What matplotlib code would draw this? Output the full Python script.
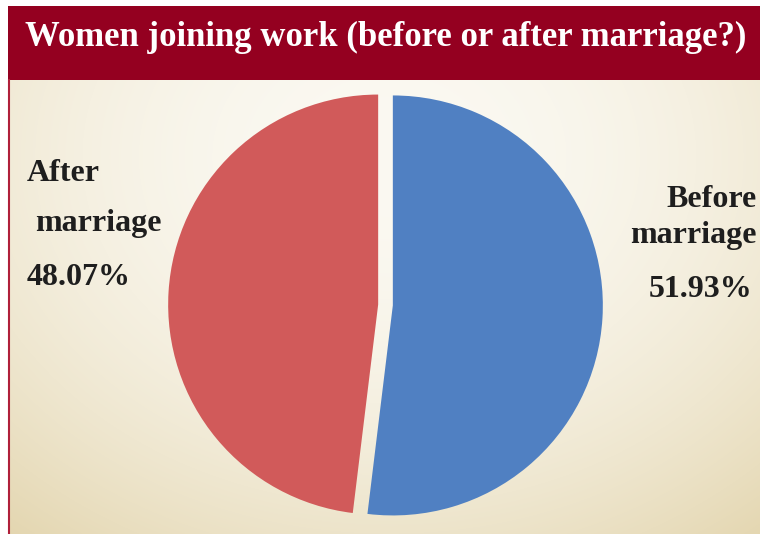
import matplotlib.pyplot as plt
import numpy as np
import matplotlib.patches as mpatches
from matplotlib.colors import to_rgb

# Datos
categorias = ["Before marriage", "After marriage"]
porcentajes = [51.93, 48.07]
colores = ["#5080c2", "#d15a5a"]
titulo = "Women joining work (before or after marriage?)"

W, H = 760, 534
fig = plt.figure(figsize=(W / 100, H / 100), dpi=100)

# Fondo con degradado radial (claro arriba, beige abajo)
bg = fig.add_axes([0, 0, 1, 1])
bg.set_xlim(0, W)
bg.set_ylim(H, 0)
bg.axis("off")

yy, xx = np.mgrid[0:H, 0:W]
t = ((xx - 385) / 620.0) ** 2 + ((yy - 90) / 580.0) ** 2
t = np.clip(t, 0, 1)
c0 = np.array(to_rgb("#fbf9f2"))
c1 = np.array(to_rgb("#e3d5ae"))
img = c0[None, None, :] * (1 - t[..., None]) + c1[None, None, :] * t[..., None]
bg.imshow(img, extent=[8, W, H, 80], aspect="auto", zorder=0)

# Barra del título y borde izquierdo
bg.add_patch(mpatches.Rectangle((8, 6), W - 8, 74, facecolor="#940020", edgecolor="none", zorder=1))
bg.plot([8.5, 8.5], [80, H], color="#b0203a", linewidth=1.5, zorder=2)
bg.text(386, 37, titulo, color="white", fontsize=25, fontweight="bold",
        family="Liberation Serif", ha="center", va="center", zorder=3)

# Etiquetas
fuente = dict(fontsize=23, fontweight="bold", family="Liberation Serif", color="#1e1e1e")
antes, despues = categorias[0].split(), categorias[1].split()
bg.text(27, 181, despues[0], ha="left", va="baseline", **fuente)
bg.text(35, 231, despues[1], ha="left", va="baseline", **fuente)
bg.text(27, 285, f"{porcentajes[1]:.2f}%", ha="left", va="baseline", **fuente)
bg.text(757, 207, antes[0], ha="right", va="baseline", **fuente)
bg.text(757, 243, antes[1], ha="right", va="baseline", **fuente)
bg.text(752, 297, f"{porcentajes[0]:.2f}%", ha="right", va="baseline", **fuente)

# Gráfico de torta
r = 210
cx, cy = 385.5, 305
lim = 1.1
ax = fig.add_axes([(cx - lim * r) / W, (H - cy - lim * r) / H, 2 * lim * r / W, 2 * lim * r / H])
ax.pie(porcentajes, colors=colores, startangle=90, counterclock=False,
       explode=[0.035, 0.035], wedgeprops=dict(linewidth=0))
ax.set_xlim(-lim, lim)
ax.set_ylim(-lim, lim)
ax.axis("off")

fig.savefig("out.png", dpi=100)
